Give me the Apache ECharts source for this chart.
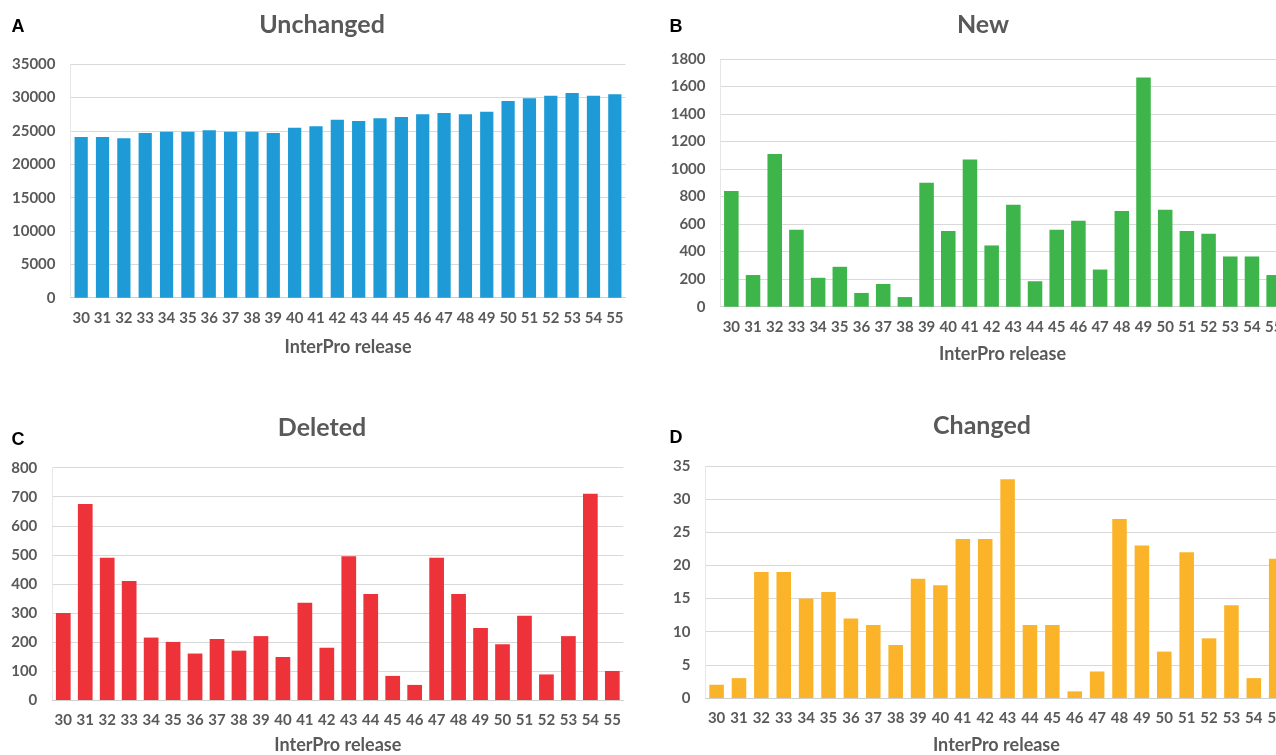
<!DOCTYPE html>
<html>
<head>
<meta charset="utf-8">
<script src="https://cdn.jsdelivr.net/npm/echarts@6/dist/echarts.min.js"></script>
<style>
  html, body { margin: 0; padding: 0; background: #fff; overflow: hidden; }
  /* canvas is a little wider than the page so the right-hand panels run off its edge */
  #chart { width: 1300px; height: 755px; }
</style>
</head>
<body>
<div id="chart"></div>
<script>
// InterPro releases 30–55
const releases = ['30','31','32','33','34','35','36','37','38','39','40','41','42','43','44','45','46','47','48','49','50','51','52','53','54','55'];

// Entries per release, by status
const unchanged = [24100,24100,23900,24700,24900,24900,25100,24900,24900,24700,25500,25700,26700,26500,26900,27100,27500,27700,27500,27900,29500,29900,30300,30700,30300,30500];
const newEntries = [840,230,1110,560,210,290,100,165,70,900,550,1070,445,740,185,560,625,270,695,1665,705,550,530,365,365,230];
const deleted = [300,675,490,410,215,200,160,210,170,220,148,335,180,495,365,83,52,490,365,248,192,290,88,220,710,100];
const changed = [2,3,19,19,15,16,12,11,8,18,17,24,24,33,11,11,1,4,27,23,7,22,9,14,3,21];

// Value-axis ranges
const yMax = [35000, 1800, 800, 35];
const yStep = [5000, 200, 100, 5];

const panelTitles = ['Unchanged', 'New', 'Deleted', 'Changed'];
const panelLetters = ['A', 'B', 'C', 'D'];
const xAxisTitle = 'InterPro release';

const seriesData = [unchanged, newEntries, deleted, changed];
const colors = ['#1E9BD7', '#3DB54A', '#EE3239', '#FBB42A'];

// Plot areas
const grids = [
  { left: 70.5,  top: 64.3,  width: 555, height: 233.4 },
  { left: 720.5, top: 59,    width: 564, height: 247.7 },
  { left: 52.3,  top: 467.7, width: 571, height: 233 },
  { left: 705.4, top: 466,   width: 582, height: 232.3 }
];
const titlePos = [[322, 25], [983, 25], [322, 428], [982, 426]];
const letterPos = [[18, 27], [676, 27], [18, 440], [676, 438]];
const nameGaps = [40, 38, 36, 38];
const barGaps = ['38%', '33%', '33%', '35%'];

const font = 'Lato, "Open Sans", sans-serif';
const grey = '#595959';

const chart = echarts.init(document.getElementById('chart'), null, { renderer: 'canvas' });

const option = {
  animation: false,
  backgroundColor: '#fff',
  grid: grids.map(g => Object.assign({ containLabel: false }, g)),
  xAxis: [],
  yAxis: [],
  series: [],
  graphic: []
};

for (let i = 0; i < 4; i++) {
  // panel heading
  option.graphic.push({
    type: 'text',
    x: titlePos[i][0],
    y: titlePos[i][1],
    style: {
      text: panelTitles[i],
      font: 'bold 25px ' + font,
      fill: grey,
      textAlign: 'center',
      textVerticalAlign: 'middle'
    }
  });
  // panel letter
  option.graphic.push({
    type: 'text',
    x: letterPos[i][0],
    y: letterPos[i][1],
    style: {
      text: panelLetters[i],
      font: 'bold 18px "Liberation Sans", Arial, sans-serif',
      fill: '#000',
      textAlign: 'center',
      textVerticalAlign: 'middle'
    }
  });
  option.xAxis.push({
    type: 'category',
    gridIndex: i,
    data: releases,
    name: xAxisTitle,
    nameLocation: 'middle',
    nameGap: nameGaps[i],
    nameTextStyle: { fontFamily: font, fontSize: 18, fontWeight: 'bold', color: grey },
    axisLine: { lineStyle: { color: '#cfcfcf', width: 1 } },
    axisTick: { show: false },
    axisLabel: { interval: 0, margin: 13, fontFamily: font, fontSize: 15, fontWeight: 'bold', color: grey }
  });
  option.yAxis.push({
    type: 'value',
    gridIndex: i,
    min: 0,
    max: yMax[i],
    interval: yStep[i],
    axisLine: { show: true, lineStyle: { color: '#e3e3e3', width: 1, type: 'dotted' } },
    axisTick: { show: false },
    splitLine: { lineStyle: { color: '#d9d9d9', width: 1 } },
    axisLabel: {
      margin: 15,
      fontFamily: font,
      fontSize: 15,
      fontWeight: 'bold',
      color: grey,
      formatter: v => String(v)
    }
  });
  option.series.push({
    type: 'bar',
    xAxisIndex: i,
    yAxisIndex: i,
    data: seriesData[i],
    barCategoryGap: barGaps[i],
    itemStyle: { color: colors[i] }
  });
}

chart.setOption(option);
</script>
</body>
</html>
